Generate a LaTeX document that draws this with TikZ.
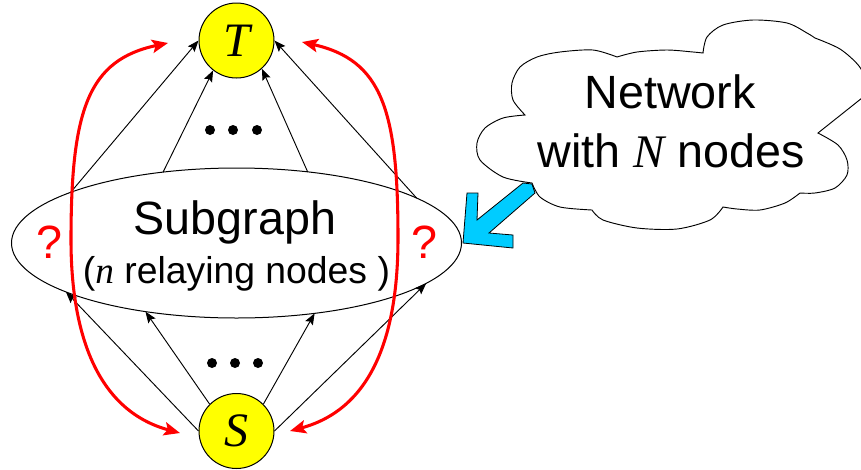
\documentclass[tikz,border=0pt]{standalone}
\usepackage{fontspec}
\setmainfont{Liberation Sans}
\newfontfamily\timesfont{Liberation Serif}
\usetikzlibrary{arrows.meta,shapes.geometric}

\definecolor{nodeyellow}{HTML}{FFFF00}
\definecolor{pathred}{HTML}{FF0000}
\definecolor{pointblue}{HTML}{00CCFF}

\newcommand{\vv}[1]{{\timesfont\itshape #1}}

\tikzset{
  endpoint/.style={circle, draw=black, line width=0.75pt, fill=nodeyellow,
    minimum size=56.25pt, inner sep=0pt,
    font=\fontsize{36}{40}\selectfont\timesfont\itshape},
  link/.style={draw=black, line width=0.7pt,
    -{Stealth[length=8.5pt, width=6.5pt, inset=1.5pt]}},
  detour/.style={draw=pathred, line width=2.3pt,
    {Stealth[length=12pt, width=10pt, inset=2.5pt]}-{Stealth[length=12pt, width=10pt, inset=2.5pt]}},
  bigtext/.style={anchor=base, inner sep=0pt, font=\fontsize{35}{40}\selectfont},
  midtext/.style={anchor=base, inner sep=0pt, font=\fontsize{28}{32}\selectfont},
  dotmark/.style={circle, fill=black, inner sep=0pt, minimum size=7.5pt},
}

\begin{document}
\begin{tikzpicture}[x=0.75pt, y=-0.75pt]
\clip (0,0) rectangle (861,469);
\fill[white] (0,0) rectangle (861,469);

% subgraph ellipse
\node[draw=black, line width=0.75pt, ellipse, minimum width=337.5pt,
      minimum height=112.5pt, inner sep=0pt, outer sep=0pt] (sub) at (236.5,243) {};
\node[bigtext] (subA) at (235,234) {Subgraph};
\node[midtext] (subB) at (236.5,283) {(\vv{n} relaying nodes )};
\node[bigtext, text=pathred] (qL) at (49,258) {?};
\node[bigtext, text=pathred] (qR) at (424,258) {?};

% destination and source
\node[endpoint] (T) at (236.5,40.5) {T};
\node[endpoint] (S) at (236.5,431) {S};

% links from the subgraph into T
\draw[link] (sub.163.5) -- (T.180);
\draw[link] (sub.136) -- (T.232);
\draw[link] (sub.45) -- (T.-48);
\draw[link] (sub.14.5) -- (T.0);

% links from S into the subgraph
\draw[link] (S.180) -- (sub.196);
\draw[link] (S.135) -- (sub.217.6);
\draw[link] (S.45) -- (sub.-42.7);
\draw[link] (S.0) -- (sub.-12.7);

% elided relays
\node[dotmark] (u1) at (210,130) {};
\node[dotmark] (u2) at (233,130) {};
\node[dotmark] (u3) at (257,130) {};
\node[dotmark] (l1) at (212,363) {};
\node[dotmark] (l2) at (235,363) {};
\node[dotmark] (l3) at (258,363) {};

% unknown routes around the subgraph
\coordinate (rLt) at (168,43);
\coordinate (rLm) at (71,240);
\coordinate (rLb) at (180,433);
\coordinate (rRt) at (302,42);
\coordinate (rRm) at (398,238);
\coordinate (rRb) at (290,431);
\draw[detour] (rLt) .. controls (88,60) and (71,110) .. (rLm)
                    .. controls (71,330) and (95,410) .. (rLb);
\draw[detour] (rRt) .. controls (382,60) and (398,110) .. (rRm)
                    .. controls (398,330) and (375,408) .. (rRb);

% network cloud
\draw[black, line width=0.7pt, fill=white]
  plot[smooth] coordinates {(532,183) (503,177) (480,160) (477,143) (485,128) (503,118) (525,115)}
  -- plot[smooth] coordinates {(525,115) (513,100) (512,83) (520,67) (537,57) (560,52) (593,50) (617,57)}
  -- plot[smooth] coordinates {(617,57) (637,52) (667,50) (693,52) (703,53)}
  -- plot[smooth] coordinates {(703,53) (707,37) (723,25) (753,20) (787,23) (807,33) (815,38)}
  -- plot[smooth] coordinates {(815,38) (840,49) (859,66) (867,84) (862,98)}
  -- plot[smooth] coordinates {(818,133) (838,145) (847,160) (847,175) (835,188) (815,193) (800,193)}
  -- plot[smooth] coordinates {(800,193) (785,203) (760,210) (737,209) (723,207)}
  -- plot[smooth] coordinates {(723,207) (710,220) (677,229) (637,228) (603,220) (592,210)}
  -- plot[smooth] coordinates {(592,210) (560,207) (540,197) (532,183)}
  -- cycle;
\node[bigtext] (netA) at (670,108) {Network};
\node[bigtext] (netB) at (671,167) {with \vv{N} nodes};

% pointer from the cloud to the subgraph
\draw[black, line width=0.6pt, fill=pointblue]
  (523,183) -- (532,184) -- (535,193) -- (489,233) -- (513,235) -- (513,248)
  -- (463,243) -- (467,193) -- (478,193) -- (477,220) -- cycle;
\end{tikzpicture}
\end{document}
